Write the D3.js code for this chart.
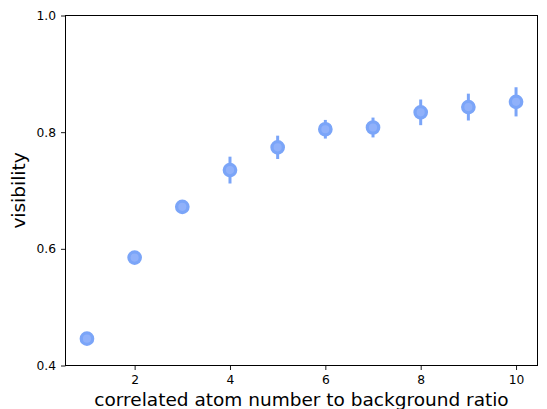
<!DOCTYPE html>
<html>
<head>
<meta charset="utf-8">
<script src="https://cdn.jsdelivr.net/npm/d3@7"></script>
<style>
  body { margin: 0; background: #fff; }
  svg { font-family: "DejaVu Sans", sans-serif; }
</style>
</head>
<body>
<div id="chart"></div>
<script>
// ratio of correlated atom number to background
const ratios = [1, 2, 3, 4, 5, 6, 7, 8, 9, 10]
const visibility = [0.446, 0.585, 0.672, 0.735, 0.774, 0.805, 0.808, 0.834, 0.843, 0.852]
const errors = [0.004, 0.005, 0.01, 0.023, 0.02, 0.016, 0.017, 0.022, 0.023, 0.025]
const xTicks = [2, 4, 6, 8, 10]
const yTicks = [0.4, 0.6, 0.8, 1.0]

const width = 547
const height = 409
const margin = ({ top: 15.5, right: 9.5, bottom: 43.5, left: 65.5 })

const points = ratios.map((r, i) => ({ r: r, v: visibility[i], e: errors[i] }))

const svg = d3.select('#chart')
    .append('svg')
    .attr('width', width)
    .attr('height', height)

const x = d3.scaleLinear()
    .domain([0.55, 10.45])
    .range([margin.left, width - margin.right])

const y = d3.scaleLinear()
    .domain([0.4, 1.0])
    .range([height - margin.bottom, margin.top])

const lineColor = '#7ba5f8'
const faceColor = '#90b1fa'

// error bars
svg.append('g')
    .selectAll('line')
    .data(points)
    .join('line')
    .attr('x1', d => x(d.r))
    .attr('x2', d => x(d.r))
    .attr('y1', d => y(d.v - d.e))
    .attr('y2', d => y(d.v + d.e))
    .attr('stroke', lineColor)
    .attr('stroke-width', 3)

// markers
svg.append('g')
    .selectAll('circle')
    .data(points)
    .join('circle')
    .attr('cx', d => x(d.r))
    .attr('cy', d => y(d.v))
    .attr('r', 5.7)
    .attr('fill', faceColor)
    .attr('stroke', lineColor)
    .attr('stroke-width', 3.3)

const xAxis = g => g
    .attr('transform', `translate(0,${height - margin.bottom})`)
    .call(d3.axisBottom(x).tickValues(xTicks).tickFormat(d3.format('d')).tickSize(4.5).tickPadding(5).tickSizeOuter(0))

const yAxis = g => g
    .attr('transform', `translate(${margin.left},0)`)
    .call(d3.axisLeft(y).tickValues(yTicks).tickFormat(d3.format('.1f')).tickSize(4.5).tickPadding(5).tickSizeOuter(0))

svg.append('g').call(xAxis)
svg.append('g').call(yAxis)

svg.selectAll('.tick text')
    .attr('font-size', 12.3)
    .attr('font-family', '"DejaVu Sans", sans-serif')
    .attr('fill', '#000')
svg.selectAll('.domain').remove()
svg.selectAll('.tick line').attr('stroke', '#000').attr('stroke-width', 0.9)

// frame
svg.append('rect')
    .attr('x', margin.left)
    .attr('y', margin.top)
    .attr('width', width - margin.right - margin.left)
    .attr('height', height - margin.bottom - margin.top)
    .attr('fill', 'none')
    .attr('stroke', '#000')
    .attr('stroke-width', 1)

svg.append('text')
    .attr('x', (margin.left + width - margin.right) / 2)
    .attr('y', 405.5)
    .attr('text-anchor', 'middle')
    .attr('font-size', 18.5)
    .text('correlated atom number to background ratio')

svg.append('text')
    .attr('transform', `translate(24.5,${(margin.top + height - margin.bottom) / 2}) rotate(-90)`)
    .attr('text-anchor', 'middle')
    .attr('font-size', 18.5)
    .text('visibility')
</script>
</body>
</html>
